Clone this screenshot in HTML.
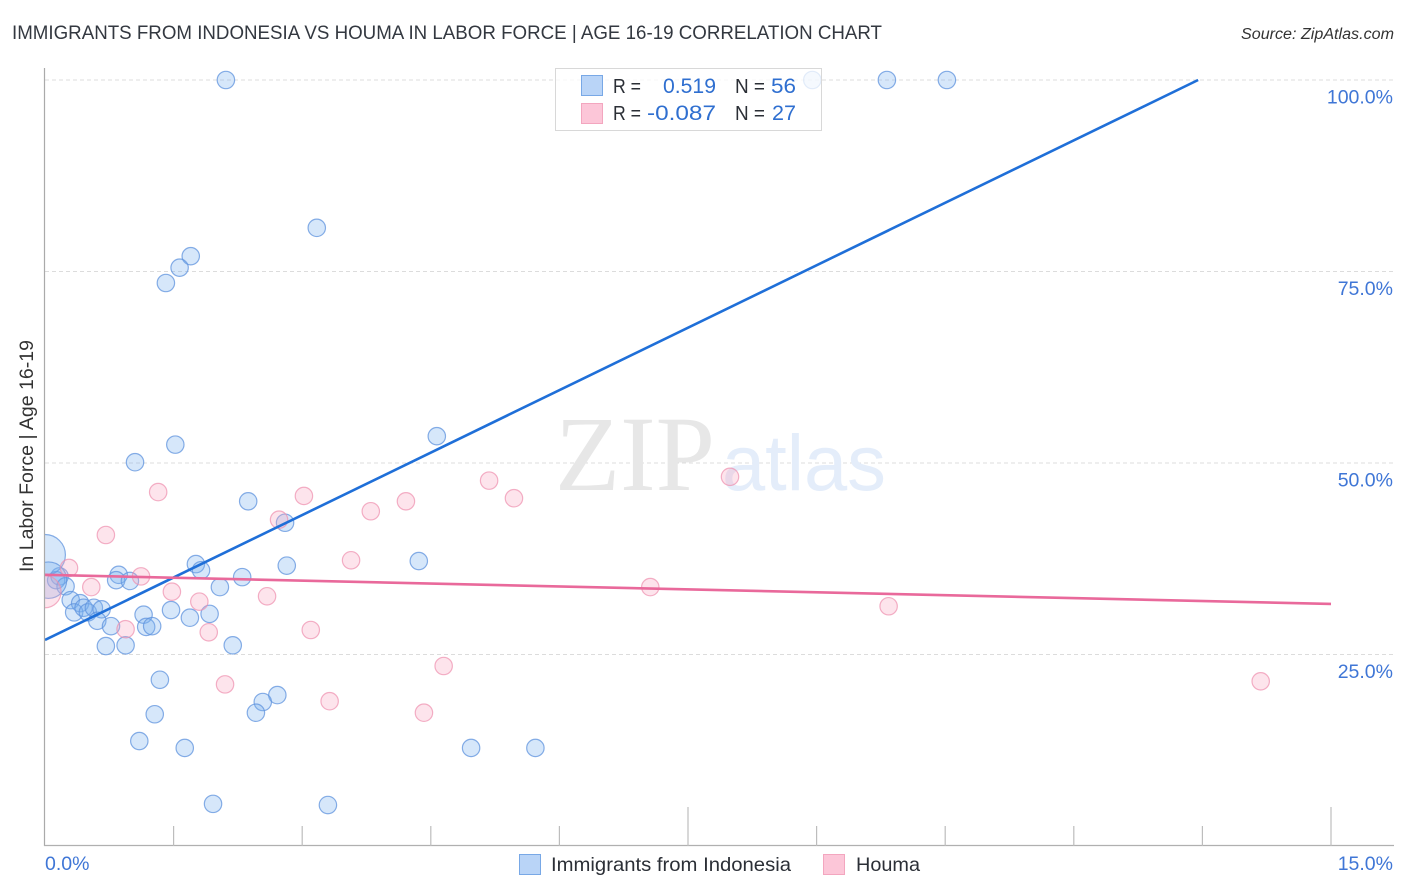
<!DOCTYPE html>
<html lang="en">
<head>
<meta charset="utf-8">
<title>Immigrants from Indonesia vs Houma in Labor Force | Age 16-19 Correlation Chart</title>
<style>
html,body{margin:0;padding:0;background:#fff;width:1406px;height:892px;overflow:hidden}
svg{display:block}
text{font-family:"Liberation Sans",sans-serif}
</style>
</head>
<body>
<svg id="chart" xmlns="http://www.w3.org/2000/svg" width="1406" height="892" viewBox="0 0 1406 892">
  <text x="12" y="39" font-size="19.5" fill="#333840" textLength="870" lengthAdjust="spacingAndGlyphs">IMMIGRANTS FROM INDONESIA VS HOUMA IN LABOR FORCE | AGE 16-19 CORRELATION CHART</text>
  <text x="1394" y="39" font-size="15.5" font-style="italic" fill="#333" text-anchor="end" textLength="153" lengthAdjust="spacingAndGlyphs">Source: ZipAtlas.com</text>
  <g id="grid"></g>
  <g>
    <text x="555" y="490" font-size="107" fill="#e7e7e7" textLength="160" lengthAdjust="spacingAndGlyphs" style="font-family:'Liberation Serif',serif">ZIP</text>
    <text x="722" y="490" font-size="79" fill="#e4edfa" textLength="164" lengthAdjust="spacingAndGlyphs">atlas</text>
  </g>
  <g id="points"></g>
  <rect x="0" y="60" width="44.5" height="786" fill="#fff"/>
  <g id="trends"></g>
  <g id="axes"></g>
  <text transform="translate(33,456) rotate(-90)" font-size="19" fill="#333" text-anchor="middle" textLength="232" lengthAdjust="spacingAndGlyphs">In Labor Force | Age 16-19</text>

  <g>
    <rect x="555.5" y="68.5" width="266" height="62" fill="#fff" fill-opacity="0.76" stroke="#d8d8d8" stroke-width="1"/>
    <rect x="581.5" y="75.5" width="21" height="20" fill="#b9d4f7" stroke="#78a8e6"/>
    <rect x="581.5" y="103.5" width="21" height="20" fill="#fcc6d8" stroke="#f3a6bf"/>
    <text x="613" y="93" font-size="20" fill="#2b2f36" textLength="28" lengthAdjust="spacingAndGlyphs">R =</text>
    <text x="716" y="93" font-size="21" fill="#2f6fd0" text-anchor="end" textLength="53" lengthAdjust="spacingAndGlyphs">0.519</text>
    <text x="735" y="93" font-size="20" fill="#2b2f36" textLength="30" lengthAdjust="spacingAndGlyphs">N =</text>
    <text x="771" y="93" font-size="21" fill="#2f6fd0" textLength="25" lengthAdjust="spacingAndGlyphs">56</text>
    <text x="613" y="120" font-size="20" fill="#2b2f36" textLength="28" lengthAdjust="spacingAndGlyphs">R =</text>
    <text x="716" y="120" font-size="21" fill="#2f6fd0" text-anchor="end" textLength="69" lengthAdjust="spacingAndGlyphs">-0.087</text>
    <text x="735" y="120" font-size="20" fill="#2b2f36" textLength="30" lengthAdjust="spacingAndGlyphs">N =</text>
    <text x="772" y="120" font-size="21" fill="#2f6fd0" textLength="24" lengthAdjust="spacingAndGlyphs">27</text>
  </g>

  <g>
    <g>
      <rect x="519.5" y="854.5" width="21" height="20" fill="#b9d4f7" stroke="#78a8e6"/>
      <text x="551" y="871" font-size="19.5" fill="#2b2f36" textLength="240" lengthAdjust="spacingAndGlyphs">Immigrants from Indonesia</text>
    </g>
    <g>
      <rect x="823.5" y="854.5" width="21" height="20" fill="#fcc6d8" stroke="#f3a6bf"/>
      <text x="856" y="871" font-size="19.5" fill="#2b2f36" textLength="64" lengthAdjust="spacingAndGlyphs">Houma</text>
    </g>
  </g>
</svg>
<script>
// X = percent of group, Y = percent in labor force
const indonesiaX = [2.11,8.95,9.82,10.52,3.17,1.70,1.57,1.41,4.57,1.52,1.05,2.37,2.80,4.36,1.76,1.82,2.82,2.30,2.04,0.86,0.83,0.99,0.17,0.13,0.24,0.30,0.41,0.34,0.45,0.50,0.57,0.66,0.61,0.77,1.15,1.47,1.69,1.92,1.18,1.25,0.71,0.94,2.19,1.34,2.71,2.54,2.46,1.28,1.10,1.63,4.97,5.72,1.96,3.30,0,0.04];
const indonesiaY = [100,100,100,100,80.7,77.0,75.5,73.5,53.5,52.4,50.1,45.0,42.2,37.2,36.8,36.0,36.6,35.1,33.8,35.4,34.7,34.6,35.2,34.7,33.9,32.1,31.7,30.5,31.1,30.5,31.1,30.9,29.4,28.7,30.2,30.8,29.8,30.3,28.6,28.7,26.1,26.2,26.2,21.7,19.7,18.8,17.4,17.2,13.7,12.8,12.8,12.8,5.5,5.35,38.0,34.7];
const indonesiaWeight = [1,1,1,1,1,1,1,1,1,1,1,1,1,1,1,1,1,1,1,1,1,1,1,1,1,1,1,1,1,1,1,1,1,1,1,1,1,1,1,1,1,1,1,1,1,1,1,1,1,1,1,1,1,1,5.5,4.4];
const houmaX = [0.28,0.71,1.32,3.02,2.73,3.80,4.21,5.18,5.47,7.99,3.57,1.12,0.54,1.48,1.80,2.59,7.06,9.84,0.94,1.91,3.10,2.10,3.32,4.65,4.42,14.18,0];
const houmaY = [36.3,40.6,46.2,45.7,42.6,43.7,45.0,47.7,45.4,48.2,37.3,35.2,33.8,33.2,31.9,32.6,33.8,31.3,28.3,27.9,28.2,21.1,18.9,23.5,17.4,21.5,33.2];
const houmaWeight = [1,1,1,1,1,1,1,1,1,1,1,1,1,1,1,1,1,1,1,1,1,1,1,1,1,1,3.4];
const indonesiaTrendX = [0,13.45];
const indonesiaTrendY = [26.9,100];
const houmaTrendX = [0,15];
const houmaTrendY = [35.4,31.6];
const yTicks = [25,50,75,100];
const yTickLabels = ["25.0%","50.0%","75.0%","100.0%"];
const xTicks = [0,1.5,3,4.5,6,7.5,9,10.5,12,13.5,15];
const xMajorTicks = [0,7.5,15];
const xEndLabels = ["0.0%","15.0%"];

const NS = "http://www.w3.org/2000/svg";
const xScale = v => 45 + v * (1331 - 45) / 15;
const yScale = v => 846 - v * (846 - 80) / 100;
const radiusOf = w => 8.7 * Math.sqrt(w);
function make(tag, attrs, parent) {
  const el = document.createElementNS(NS, tag);
  for (const k in attrs) el.setAttribute(k, attrs[k]);
  parent.appendChild(el);
  return el;
}
const grid = document.getElementById("grid");
const axes = document.getElementById("axes");
const points = document.getElementById("points");
const trends = document.getElementById("trends");

yTicks.forEach((t, i) => {
  const line = make("line", {x1:45, x2:1394, y1:yScale(t), y2:yScale(t), stroke:"#dcdcdc", "stroke-width":1, "stroke-dasharray":"4 3"}, grid);
  
  
  const label = make("text", {x:1393, y:yScale(t)+23.5, "font-size":19.5, fill:"#3f76d6", "text-anchor":"end"}, axes);
  label.textContent = yTickLabels[i];
  
  
});

const yAxis = make("line", {x1:44.5, x2:44.5, y1:68, y2:846, stroke:"#aaa", "stroke-width":1.2}, axes);


const xAxis = make("line", {x1:44, x2:1394, y1:845.5, y2:845.5, stroke:"#b0b0b0", "stroke-width":1.2}, axes);



xTicks.forEach(t => {
  if (t === 0) return;
  const top = xMajorTicks.includes(t) ? 807 : 826;
  const tick = make("line", {x1:xScale(t), x2:xScale(t), y1:top, y2:846, stroke:"#bdbdbd", "stroke-width":1.2}, axes);
  
  
});

const xLeft = make("text", {x:xScale(xTicks[0]), y:870, "font-size":19.5, fill:"#3f76d6"}, axes);
xLeft.textContent = xEndLabels[0];


const xRight = make("text", {x:1393, y:870, "font-size":19.5, fill:"#3f76d6", "text-anchor":"end"}, axes);
xRight.textContent = xEndLabels[1];



indonesiaX.forEach((x, i) => {
  const c = make("circle", {cx:xScale(x), cy:yScale(indonesiaY[i]), r:radiusOf(indonesiaWeight[i]), fill:"#78aeef", "fill-opacity":0.3, stroke:"#5f93dd", "stroke-opacity":0.75, "stroke-width":1.2}, points);
  
  
});
houmaX.forEach((x, i) => {
  const c = make("circle", {cx:xScale(x), cy:yScale(houmaY[i]), r:radiusOf(houmaWeight[i]), fill:"#f8a5c0", "fill-opacity":0.3, stroke:"#ee8fae", "stroke-opacity":0.7, "stroke-width":1.2}, points);
  
  
});

const blueLine = make("line", {x1:xScale(indonesiaTrendX[0]), y1:yScale(indonesiaTrendY[0]), x2:xScale(indonesiaTrendX[1]), y2:yScale(indonesiaTrendY[1]), stroke:"#1f6fd8", "stroke-width":2.6}, trends);


const pinkLine = make("line", {x1:xScale(houmaTrendX[0]), y1:yScale(houmaTrendY[0]), x2:xScale(houmaTrendX[1]), y2:yScale(houmaTrendY[1]), stroke:"#e9699b", "stroke-width":2.6}, trends);


</script>
</body>
</html>
